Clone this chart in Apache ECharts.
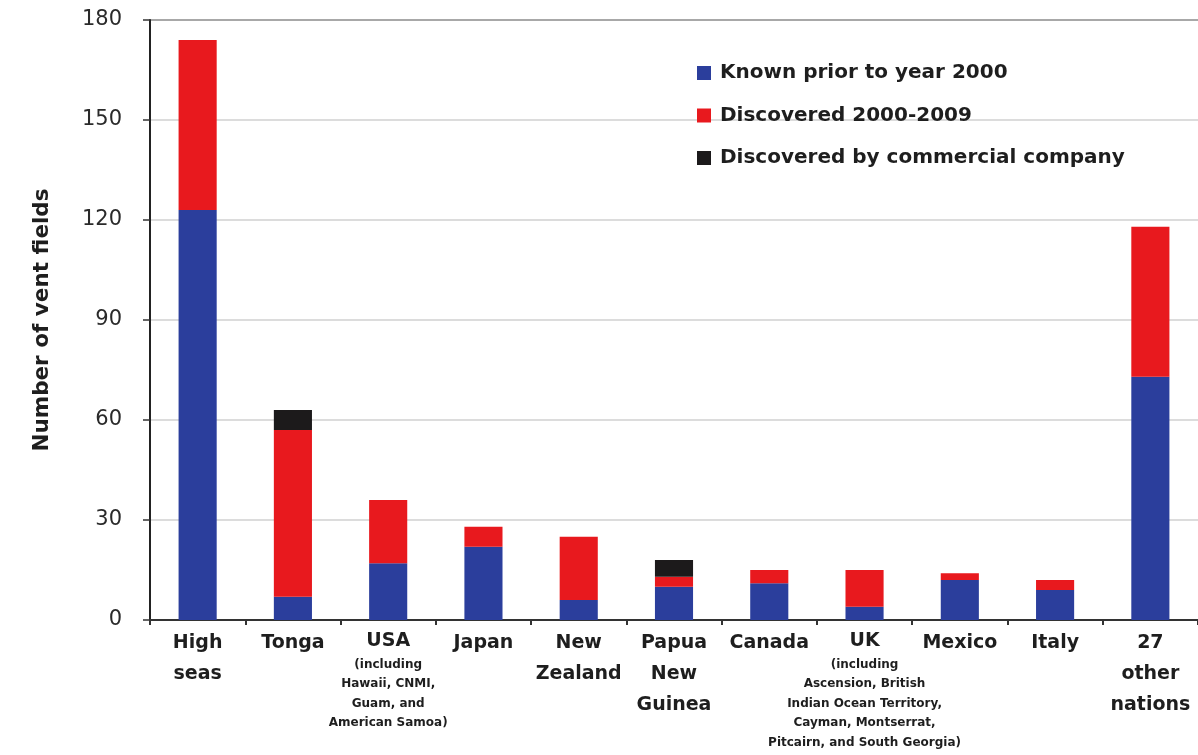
<!DOCTYPE html>
<html>
<head>
<meta charset="utf-8">
<script src="https://cdn.jsdelivr.net/npm/echarts@6/dist/echarts.min.js"></script>
<style>
html,body{margin:0;padding:0;background:#fff;}
#chart{width:1198px;height:755px;}
</style>
</head>
<body>
<div id="chart"></div>
<script>
var categories = ['High\nseas', 'Tonga', 'USA', 'Japan', 'New\nZealand', 'Papua\nNew\nGuinea', 'Canada', 'UK', 'Mexico', 'Italy', '27\nother\nnations'];
var notes = ['', '', '(including\nHawaii, CNMI,\nGuam, and\nAmerican Samoa)', '', '', '', '', '(including\nAscension, British\nIndian Ocean Territory,\nCayman, Montserrat,\nPitcairn, and South Georgia)', '', '', ''];
var knownPrior2000 = [123, 7, 17, 22, 6, 10, 11, 4, 12, 9, 73];
var discovered2000_2009 = [51, 50, 19, 6, 19, 3, 4, 11, 2, 3, 45];
var discoveredCommercial = [0, 6, 0, 0, 0, 5, 0, 0, 0, 0, 0];
var yTicks = [0, 30, 60, 90, 120, 150, 180];
var seriesNames = ['Known prior to year 2000', 'Discovered 2000-2009', 'Discovered by commercial company'];

var FONT = '"DejaVu Sans", "Noto Sans", sans-serif';
var chart = echarts.init(document.getElementById('chart'));

function labelFormatter(value) {
  var i = categories.indexOf(value);
  var n = notes[i];
  var mainStyle = n ? 'mm' : 'm';
  var parts = value.split('\n').map(function (l) { return '{' + mainStyle + '|' + l + '}'; });
  if (n) {
    n.split('\n').forEach(function (l) { parts.push('{s|' + l + '}'); });
  }
  return parts.join('\n');
}

var option = {
  backgroundColor: '#ffffff',
  animation: false,
  grid: { left: 150, right: -3, top: 20, bottom: 135, containLabel: false },
  legend: {
    orient: 'vertical',
    left: 692,
    top: 56,
    itemWidth: 14,
    itemHeight: 14,
    itemGap: 18.5,
    icon: 'rect',
    textStyle: { fontFamily: FONT, fontSize: 20, fontWeight: 'bold', color: '#1e1e1e', padding: [0, 0, 0, 4], lineHeight: 24 },
    data: seriesNames
  },
  xAxis: {
    type: 'category',
    data: categories,
    axisLine: { lineStyle: { color: '#333', width: 2 } },
    axisTick: { show: true, length: 5, lineStyle: { color: '#333', width: 2 } },
    axisLabel: {
      interval: 0,
      margin: 8,
      formatter: labelFormatter,
      rich: {
        m: { fontFamily: FONT, fontSize: 19, fontWeight: 'bold', color: '#1e1e1e', lineHeight: 31, align: 'center' },
        mm: { fontFamily: FONT, fontSize: 19, fontWeight: 'bold', color: '#1e1e1e', lineHeight: 27, align: 'center' },
        s: { fontFamily: FONT, fontSize: 12, fontWeight: 'bold', color: '#1e1e1e', lineHeight: 19.5, align: 'center' }
      }
    }
  },
  yAxis: {
    type: 'value',
    min: 0,
    max: 180,
    interval: 30,
    name: 'Number of vent fields',
    nameLocation: 'middle',
    nameRotate: 90,
    nameGap: 97,
    nameTextStyle: { fontFamily: FONT, fontSize: 21.5, fontWeight: 'bold', color: '#1e1e1e' },
    axisLine: { show: true, lineStyle: { color: '#222', width: 2 } },
    axisTick: { show: true, length: 7, lineStyle: { color: '#333', width: 1.5 } },
    axisLabel: {
      margin: 28,
      fontFamily: FONT,
      fontSize: 21,
      color: '#2a2a2a',
      formatter: function (v) { return yTicks.indexOf(v) >= 0 ? String(v) : ''; }
    },
    splitLine: { show: true, lineStyle: { color: ['#dcdcdc', '#dcdcdc', '#dcdcdc', '#dcdcdc', '#dcdcdc', '#dcdcdc', '#a8a8a8'], width: 2 } }
  },
  series: [
    { name: seriesNames[0], type: 'bar', stack: 'total', barWidth: '40%', data: knownPrior2000, itemStyle: { color: '#2b3e9c' } },
    { name: seriesNames[1], type: 'bar', stack: 'total', barWidth: '40%', data: discovered2000_2009, itemStyle: { color: '#e8191e' } },
    { name: seriesNames[2], type: 'bar', stack: 'total', barWidth: '40%', data: discoveredCommercial, itemStyle: { color: '#1c1a1b' } }
  ]
};
chart.setOption(option);
</script>
</body>
</html>
